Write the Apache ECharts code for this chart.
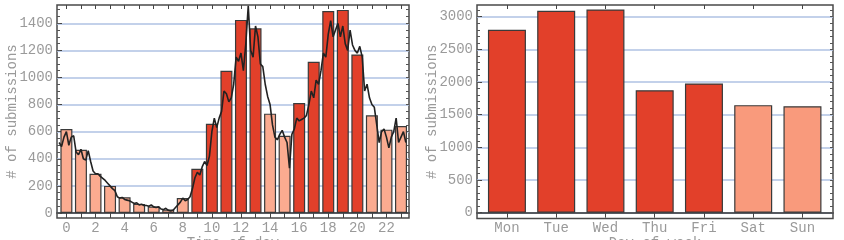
<!DOCTYPE html>
<html lang="en">
<head>
  <meta charset="UTF-8">
  <title>Submissions</title>
  <style>
    * { box-sizing: border-box; padding: 0; margin: 0; }
    html, body, #main { width: 100%; height: 100%; background: #fff; }
  </style>
  <script src="https://cdn.jsdelivr.net/npm/echarts@6/dist/echarts.min.js"></script>
</head>
<body>
  <div id="main"></div>
  <script>
    // submissions per hour of day
    var hours = [0,1,2,3,4,5,6,7,8,9,10,11,12,13,14,15,16,17,18,19,20,21,22,23];
    var hourCounts = [620,467,290,200,116,67,47,25,111,326,659,1049,1425,1363,733,570,812,1116,1491,1499,1170,721,615,642];
    var hourBusy = [0,0,0,0,0,0,0,0,0,1,1,1,1,1,0,0,1,1,1,1,1,0,0,0];
    var hourTicks = [0,2,4,6,8,10,12,14,16,18,20,22];
    // finer trace, one value every 10 minutes
    var traceValues = [
      520,490,560,600,500,560,
      570,450,430,470,400,390,
      460,380,310,290,290,270,
      255,240,220,200,180,165,
      120,110,115,100,95,90,
      80,70,75,60,65,55,
      55,50,60,45,40,45,
      30,25,35,20,15,20,
      40,60,80,110,90,100,
      120,180,260,300,280,340,
      380,350,420,600,700,630,
      700,750,900,880,820,850,
      950,1150,1120,1180,1050,1250,
      1530,1200,1150,1380,1300,1100,
      1080,950,860,800,650,560,
      540,580,610,560,520,330,
      580,620,700,680,690,700,
      720,800,900,850,980,950,
      1050,1180,1150,1320,1420,1300,
      1350,1400,1300,1380,1250,1200,
      1350,1240,1200,1180,1230,1150,
      900,950,850,800,780,650,
      520,600,620,560,480,560,
      600,700,520,560,600,520
    ];
    var hourYTicks = [0,200,400,600,800,1000,1200,1400];

    // submissions per day of week
    var dayNames = ['Mon','Tue','Wed','Thu','Fri','Sat','Sun'];
    var dayCounts = [2800,3090,3110,1875,1978,1646,1630];
    var dayBusy = [1,1,1,1,1,0,0];
    var dayYTicks = [0,500,1000,1500,2000,2500,3000];

    var dark = '#e2402a';
    var lightHour = '#fbab90';
    var lightDay = '#f99a7c';
    var font = 'Liberation Mono';
    var grey = '#9a9a9a';

    function range(a, b, step) {
      var out = [];
      for (var v = a; v <= b; v += step) out.push(v);
      return out;
    }

    var hourBars = hours.map(function (h, i) {
      return { value: [h, hourCounts[i]], itemStyle: { color: hourBusy[i] ? dark : lightHour } };
    });
    var traceData = traceValues.map(function (v, i) {
      return [i / 6 - 0.5, v];
    });
    var dayBars = dayNames.map(function (d, i) {
      return { value: [i, dayCounts[i]], itemStyle: { color: dayBusy[i] ? dark : lightDay } };
    });

    var label = { color: grey, fontFamily: font, fontSize: 14 };
    function plain(v) { return String(v); }

    function xBottom(gridIndex, min, max, labels, ticks, formatter, name) {
      return {
        type: 'value', gridIndex: gridIndex, position: 'bottom', min: min, max: max,
        name: name, nameLocation: 'middle', nameGap: 18, nameMoveOverlap: false,
        nameTextStyle: Object.assign({ verticalAlign: 'top' }, label),
        axisLine: { show: true, onZero: true, lineStyle: { color: '#333', width: 1.5 } },
        axisTick: { show: true, inside: false, length: 5, customValues: ticks, lineStyle: { color: '#444' } },
        axisLabel: Object.assign({ margin: 3, customValues: labels, formatter: formatter }, label),
        splitLine: { show: false }
      };
    }
    function xTop(gridIndex, min, max, ticks) {
      return {
        type: 'value', gridIndex: gridIndex, position: 'top', min: min, max: max,
        axisLine: { show: false, onZero: false },
        axisTick: { show: true, inside: true, length: 4, customValues: ticks, lineStyle: { color: '#444' } },
        axisLabel: { show: false },
        splitLine: { show: false }
      };
    }
    function yMain(gridIndex, min, max, labels) {
      return {
        type: 'value', gridIndex: gridIndex, position: 'left', min: min, max: max,
        name: '# of submissions', nameLocation: 'middle', nameRotate: 90, nameGap: 38, nameMoveOverlap: false,
        nameTextStyle: label,
        axisLine: { show: false, onZero: false },
        axisTick: { show: true, inside: true, length: 5, customValues: labels, lineStyle: { color: '#444' } },
        axisLabel: Object.assign({ margin: 4, customValues: labels, formatter: plain }, label),
        splitLine: { show: true, lineStyle: { color: '#afc2e3', width: 1.5 } }
      };
    }
    function yMinor(gridIndex, min, max, position, ticks) {
      return {
        type: 'value', gridIndex: gridIndex, position: position, min: min, max: max,
        axisLine: { show: false, onZero: false },
        axisTick: { show: true, inside: true, length: 3, customValues: ticks, lineStyle: { color: '#555' } },
        axisLabel: { show: false },
        splitLine: { show: false }
      };
    }

    var myChart = echarts.init(document.getElementById('main'));
    var option = {
      animation: false,
      backgroundColor: '#fff',
      grid: [
        { left: 57, right: 435, top: 5, bottom: 22, outerBoundsMode: 'none', show: true, backgroundColor: '#fff', borderColor: '#4a4a4a', borderWidth: 1.5 },
        { left: 477, right: 11, top: 5, bottom: 21.5, outerBoundsMode: 'none', show: true, backgroundColor: '#fff', borderColor: '#4a4a4a', borderWidth: 1.5 }
      ],
      xAxis: [
        xBottom(0, -0.646, 23.55, hourTicks, hours, plain, 'Time of day'),
        xTop(0, -0.646, 23.55, hours),
        xBottom(1, -0.608, 6.62, [0,1,2,3,4,5,6], [0,1,2,3,4,5,6], function (v) { return dayNames[v]; }, 'Day of week'),
        xTop(1, -0.608, 6.62, [0,1,2,3,4,5,6])
      ],
      yAxis: [
        yMain(0, -37, 1535, hourYTicks),
        yMinor(0, -37, 1535, 'left', range(0, 1500, 50)),
        yMinor(0, -37, 1535, 'right', range(0, 1500, 50)),
        yMain(1, -89, 3179, dayYTicks),
        yMinor(1, -89, 3179, 'left', range(0, 3100, 100)),
        yMinor(1, -89, 3179, 'right', range(0, 3100, 100))
      ],
      series: [
        {
          type: 'bar', xAxisIndex: 0, yAxisIndex: 0, barWidth: 12, data: hourBars,
          itemStyle: { borderColor: '#3a3a3a', borderWidth: 1.2 }
        },
        {
          type: 'line', xAxisIndex: 0, yAxisIndex: 0, data: traceData, showSymbol: false,
          lineStyle: { color: '#222', width: 1.6 }, z: 5
        },
        {
          type: 'bar', xAxisIndex: 2, yAxisIndex: 3, barWidth: 38, data: dayBars,
          itemStyle: { borderColor: '#3a3a3a', borderWidth: 1.2 }
        }
      ]
    };
    myChart.setOption(option);
    window.onresize = myChart.resize;
  </script>
</body>
</html>
